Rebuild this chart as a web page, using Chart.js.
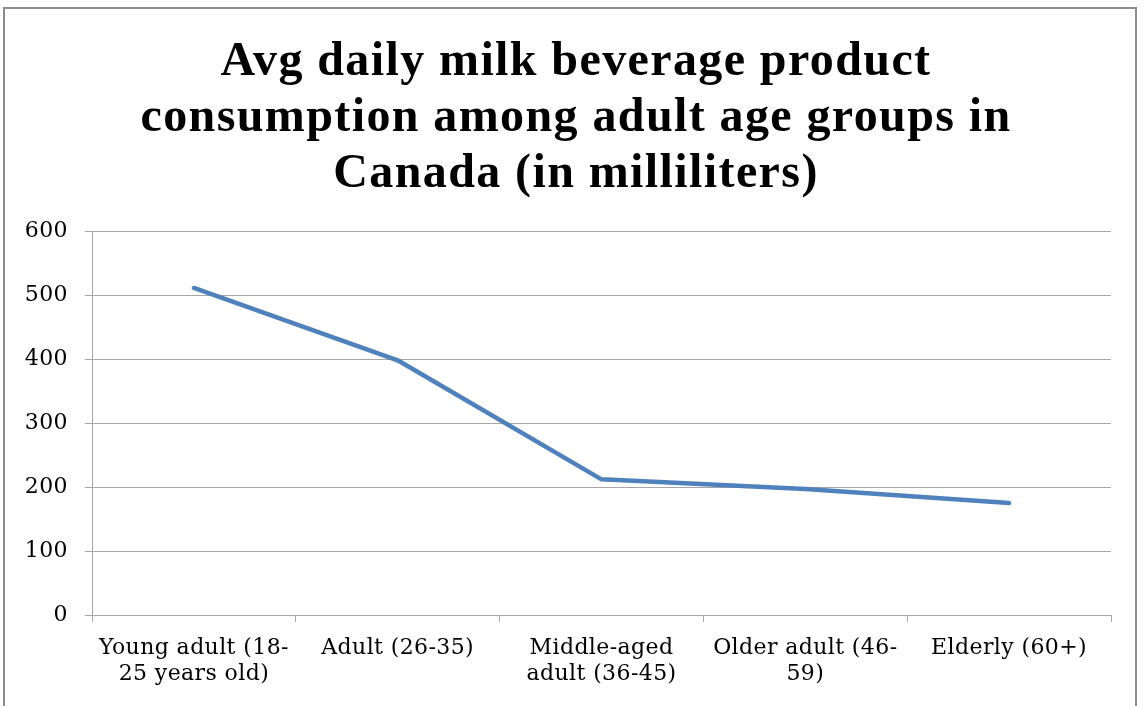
<!DOCTYPE html>
<html>
<head>
<meta charset="utf-8">
<script src="https://cdn.jsdelivr.net/npm/chart.js@4.4.1/dist/chart.umd.min.js"></script>
<style>
  html, body { margin: 0; padding: 0; background: #fff; }
  #wrap { position: relative; width: 1144px; height: 706px; overflow: hidden; }
  #frame { position: absolute; left: 3px; top: 7px; width: 1134px; height: 720px; border: 2px solid #8c8c8c; box-sizing: border-box; }
  canvas { position: absolute; left: 0; top: 0; }
</style>
</head>
<body>
<div id="wrap">
  <div id="frame"></div>
  <canvas id="c" width="1144" height="706"></canvas>
</div>
<script>
const categories = [
  ["Young adult (18-", "25 years old)"],
  "Adult (26-35)",
  ["Middle-aged", "adult (36-45)"],
  ["Older adult (46-", "59)"],
  "Elderly (60+)"
];
const consumption = [511, 398, 212, 197, 175];
const yTicks = [0, 100, 200, 300, 400, 500, 600];
const titleLines = [
  "Avg daily milk beverage product",
  "consumption among adult age groups in",
  "Canada (in milliliters)"
];

const tickFont = "'DejaVu Serif', serif";
const titleFont = "'Liberation Serif', 'Times New Roman', serif";

// Text spacing for tick labels, and a title drawn with its own spacing
const textStyle = {
  id: 'textStyle',
  beforeDraw(chart) {
    chart.ctx.letterSpacing = '0.4px';
  },
  afterDraw(chart) {
    const ctx = chart.ctx;
    ctx.save();
    ctx.letterSpacing = '1.4px';
    ctx.font = 'bold 48px ' + titleFont;
    ctx.fillStyle = '#000';
    ctx.textAlign = 'center';
    ctx.textBaseline = 'alphabetic';
    const baselines = [75, 131, 187];
    titleLines.forEach((t, i) => ctx.fillText(t, 576, baselines[i]));
    ctx.restore();
    ctx.letterSpacing = '0px';
  }
};

new Chart(document.getElementById('c'), {
  type: 'line',
  data: {
    labels: categories,
    datasets: [{
      data: consumption,
      borderColor: '#4F81BD',
      borderWidth: 4.5,
      pointRadius: 0,
      tension: 0,
      fill: false,
      borderCapStyle: 'round',
      borderJoinStyle: 'round'
    }]
  },
  plugins: [textStyle],
  options: {
    responsive: false,
    animation: false,
    devicePixelRatio: 1,
    layout: { padding: { left: 0, right: 33, top: 231, bottom: 0 } },
    plugins: {
      legend: { display: false },
      tooltip: { enabled: false },
      title: { display: false }
    },
    scales: {
      x: {
        offset: true,
        grid: {
          offset: true,
          drawOnChartArea: false,
          drawTicks: true,
          tickLength: 7,
          color: '#a6a6a6',
          lineWidth: 1
        },
        border: { display: true, color: '#a6a6a6', width: 1 },
        ticks: {
          color: '#000',
          font: { family: tickFont, size: 22, lineHeight: 1.2 },
          padding: 13,
          maxRotation: 0,
          autoSkip: false
        },
        afterFit: (s) => { s.height = 91; }
      },
      y: {
        min: 0,
        max: 600,
        afterBuildTicks: (s) => { s.ticks = yTicks.map(v => ({ value: v })); },
        grid: {
          drawTicks: true,
          tickLength: 7,
          color: '#a6a6a6',
          lineWidth: 1
        },
        border: { display: true, color: '#a6a6a6', width: 1 },
        ticks: {
          color: '#000',
          font: { family: tickFont, size: 22 },
          padding: 17
        },
        afterFit: (s) => { s.width = 92; }
      }
    }
  }
});
</script>
</body>
</html>
